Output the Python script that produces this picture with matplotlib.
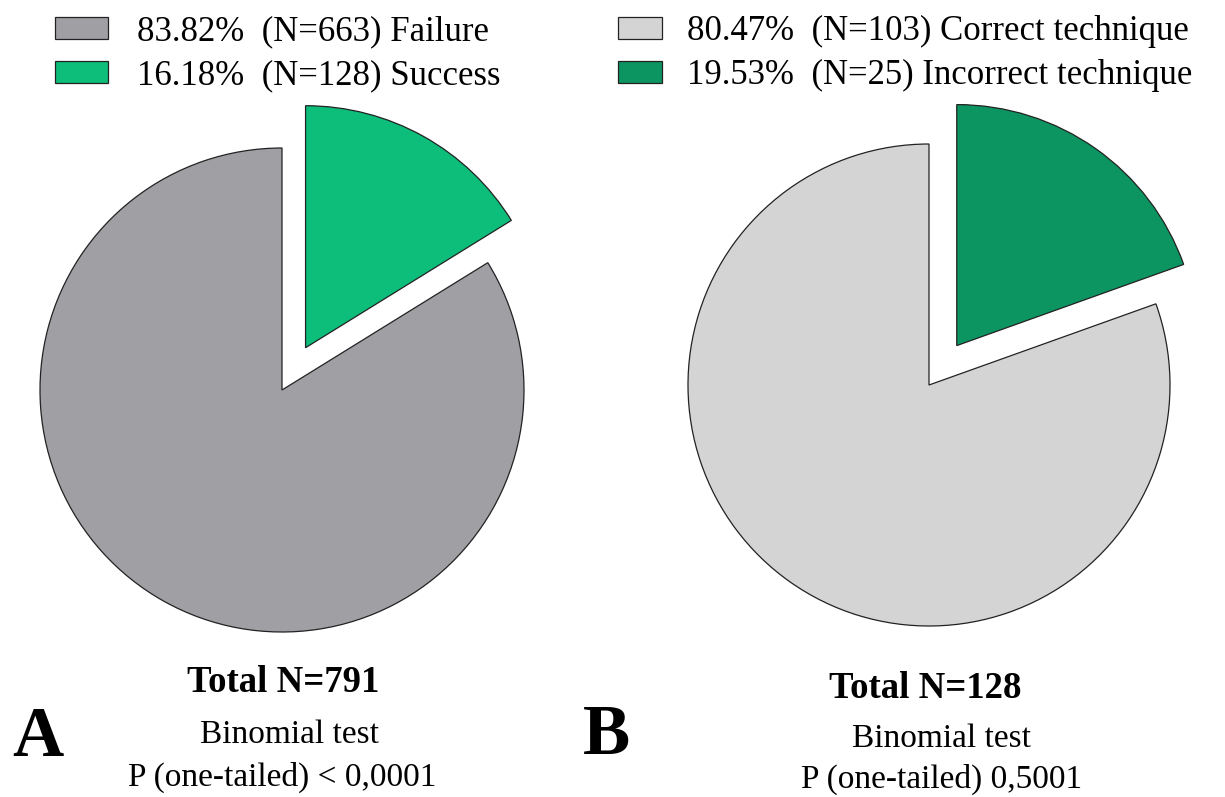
import matplotlib
matplotlib.use("Agg")
import matplotlib.pyplot as plt

plt.rcParams['font.family'] = ['Liberation Serif', 'DejaVu Serif']

# panel A data
labels_a = ['Failure', 'Success']
counts_a = [663, 128]
pcts_a = [83.82, 16.18]
colors_a = ['#a09fa4', '#0dbd7a']

# panel B data
labels_b = ['Correct technique', 'Incorrect technique']
counts_b = [103, 25]
pcts_b = [80.47, 19.53]
colors_b = ['#d4d4d4', '#0c9461']

W, H = 1225, 797
fig = plt.figure(figsize=(W / 100, H / 100), dpi=100)

L = 1.3  # half-range of data limits


def pie_axes(cx, cy, r):
    # axes placed so a radius-1 pie sits at pixel centre (cx, cy) with radius r
    size = 2 * L * r
    return fig.add_axes([(cx - size / 2) / W, (H - cy - size / 2) / H, size / W, size / H])


def draw_panel(ax, counts, colors):
    wedges, _ = ax.pie(counts, colors=colors, startangle=90, counterclock=True,
                       explode=[0, 0.2], radius=1,
                       wedgeprops=dict(edgecolor='#222222', linewidth=0.9))
    ax.set_xlim(-L, L)
    ax.set_ylim(-L, L)
    ax.set_aspect('equal')
    ax.axis('off')
    return wedges


ax_a = pie_axes(282, 390, 242)
w_a = draw_panel(ax_a, counts_a, colors_a)
ax_b = pie_axes(929, 385, 241)
w_b = draw_panel(ax_b, counts_b, colors_b)

lab_a = [f'{p:.2f}%  (N={n}) {l}' for p, n, l in zip(pcts_a, counts_a, labels_a)]
lab_b = [f'{p:.2f}%  (N={n}) {l}' for p, n, l in zip(pcts_b, counts_b, labels_b)]

fig.legend(w_a, lab_a, loc='upper left', bbox_to_anchor=(55 / W, 1 - 15 / H),
           frameon=False, fontsize=25, handlelength=1.53, handleheight=0.6,
           handletextpad=0.84, labelspacing=0.32, borderpad=0, borderaxespad=0)
fig.legend(w_b, lab_b, loc='upper left', bbox_to_anchor=(618 / W, 1 - 15 / H),
           frameon=False, fontsize=25, handlelength=1.27, handleheight=0.6,
           handletextpad=0.72, labelspacing=0.32, borderpad=0, borderaxespad=0)

# captions
fig.text(283 / W, 1 - 682 / H, 'Total N=791', ha='center', va='center', fontsize=26.5, fontweight='bold')
fig.text(290 / W, 1 - 735 / H, 'Binomial test', ha='center', va='center', fontsize=24)
fig.text(282 / W, 1 - 777 / H, 'P (one-tailed) < 0,0001', ha='center', va='center', fontsize=24)

fig.text(925 / W, 1 - 688 / H, 'Total N=128', ha='center', va='center', fontsize=26.5, fontweight='bold')
fig.text(942 / W, 1 - 739 / H, 'Binomial test', ha='center', va='center', fontsize=24)
fig.text(942 / W, 1 - 779 / H, 'P (one-tailed) 0,5001', ha='center', va='center', fontsize=24)

fig.text(38 / W, 1 - 738 / H, 'A', ha='center', va='center', fontsize=51, fontweight='bold')
fig.text(607 / W, 1 - 737 / H, 'B', ha='center', va='center', fontsize=51, fontweight='bold')

fig.savefig('out.png', dpi=100)
